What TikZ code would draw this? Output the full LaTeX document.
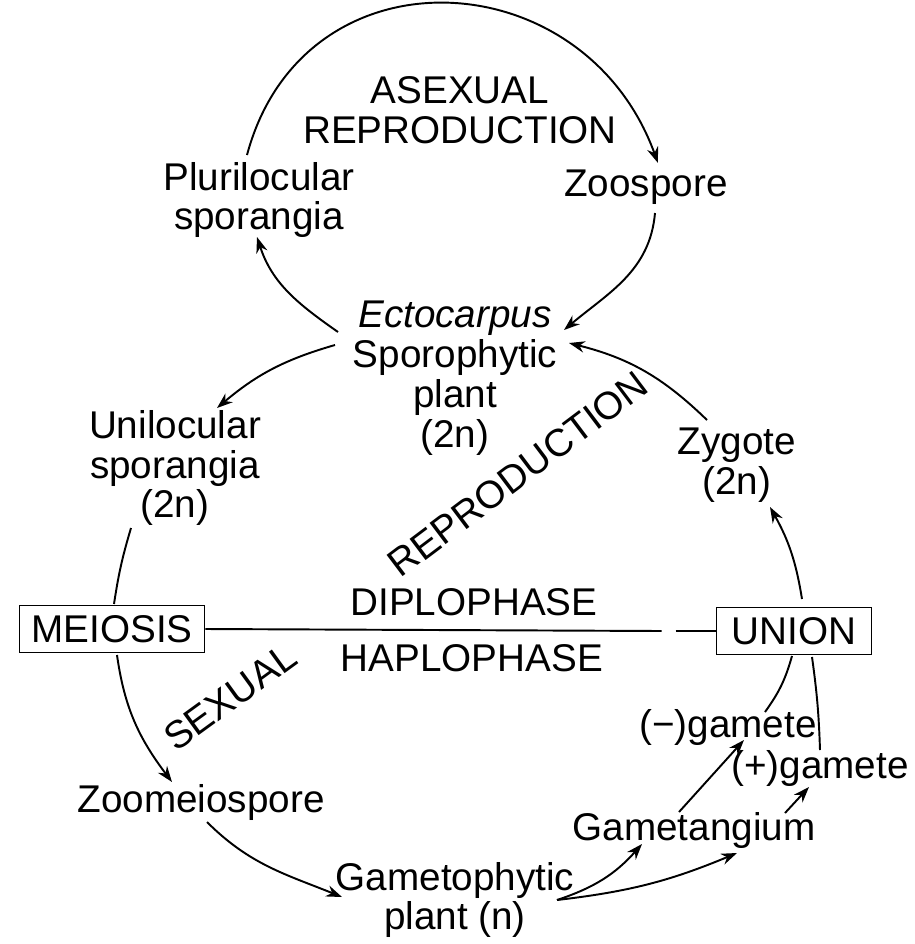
\documentclass[tikz,border=0pt]{standalone}
\usepackage{fontspec}
\setmainfont{Liberation Sans}
\usetikzlibrary{arrows.meta,calc}
\tikzset{
  lbl/.style={align=center, inner sep=2pt, font=\fontsize{22}{22.7}\selectfont},
  phasebox/.style={lbl, draw, line width=1.1pt, minimum height=0.94cm},
  flow/.style={black, line width=1.1pt, ->},
  link/.style={black, line width=1.1pt}
}
\begin{document}
\begin{tikzpicture}[x=0.02cm, y=0.02cm, >={Stealth[length=9pt,width=6.5pt]}]
    \useasboundingbox (0,0) rectangle (914,-944);
    % asexual loop
    \path (460,-110) node[lbl] (asex) {ASEXUAL\\REPRODUCTION};
    \path (259,-200) node[lbl] (plur) {Plurilocular\\sporangia};
    \path (646,-187) node[lbl] (zoo) {Zoospore};
    \path (455,-378) node[lbl] (spor) {\textit{Ectocarpus}\\Sporophytic\\plant\\(2n)};

    \path ($(plur)+(-12,45)$) edge[flow, out=75, in=110, looseness=1.35] ($(zoo)+(12,24)$);
    \path ($(zoo)+(9,-26)$) edge[flow, out=-95, in=40] ($(spor)+(109,48)$);
    \path ($(spor)+(-117,46)$) edge[flow, out=145, in=-72] ($(plur)+(-2,-37)$);

    % sexual loop
    \path (175,-468) node[lbl] (unil) {Unilocular\\sporangia\\(2n)};
    \path (737,-465) node[lbl] (zyg) {Zygote\\(2n)};
    \path (518,-474) node[lbl, rotate=37] (repro) {REPRODUCTION};
    \path (474,-602) node[lbl] (diplo) {DIPLOPHASE};
    \path (472,-658) node[lbl] (haplo) {HAPLOPHASE};
    \path (112,-629) node[phasebox, minimum width=3.7cm] (meio) {MEIOSIS};
    \path (794,-631) node[phasebox, minimum width=3.1cm] (union) {UNION};
    \path (230,-697) node[lbl, rotate=36] (sexual) {SEXUAL};
    \path (201,-802) node[lbl] (zoomei) {Zoomeiospore};
    \path (455,-900) node[lbl] (gameto) {Gametophytic\\plant (n)};
    \path (694,-830) node[lbl] (gametang) {Gametangium};
    \path (728,-727) node[lbl] (gminus) {(−)gamete};
    \path (820,-768) node[lbl] (gplus) {(+)gamete};

    \path ($(spor)+(-120,33)$) edge[flow, bend right=12] ($(unil)+(42,60)$);
    \path ($(unil)+(-44,-60)$) edge[link, bend right=4] ($(meio)+(2,25)$);
    \path ($(meio)+(5,-26)$) edge[flow, out=-82, in=127] ($(zoomei)+(-29,20)$);
    \path ($(zoomei)+(6,-20)$) edge[flow, out=-45, in=158] ($(gameto)+(-113,3)$);

    \coordinate (fork) at ($(gameto)+(102,0)$);
    \path (fork) edge[flow, bend right=15] ($(gametang)+(-52,-14)$);
    \path (fork) edge[flow, bend right=8] ($(gametang)+(43,-23)$);
    \path ($(gametang)+(-15,18)$) edge[flow] ($(gminus)+(16,-13)$);
    \path ($(gametang)+(91,17)$) edge[flow] ($(gplus)+(-11,-19)$);
    \path ($(gminus)+(37,15)$) edge[link, bend right=10] ($(union)+(-2,-25)$);
    \path ($(gplus)+(0,18)$) edge[link, bend right=3] ($(union)+(18,-26)$);
    \path ($(union)+(8,32)$) edge[flow, bend right=10] ($(zyg)+(33,-42)$);
    \path ($(zyg)+(-30,45)$) edge[flow, bend right=15] ($(spor)+(114,35)$);

    % phase line with its small break
    \coordinate (gapL) at ($(union.west)+(-54,0)$);
    \coordinate (gapR) at ($(union.west)+(-40,0)$);
    \draw[link] (meio.east) -- (gapL);
    \draw[link] (gapR) -- (union.west);
\end{tikzpicture}
\end{document}
